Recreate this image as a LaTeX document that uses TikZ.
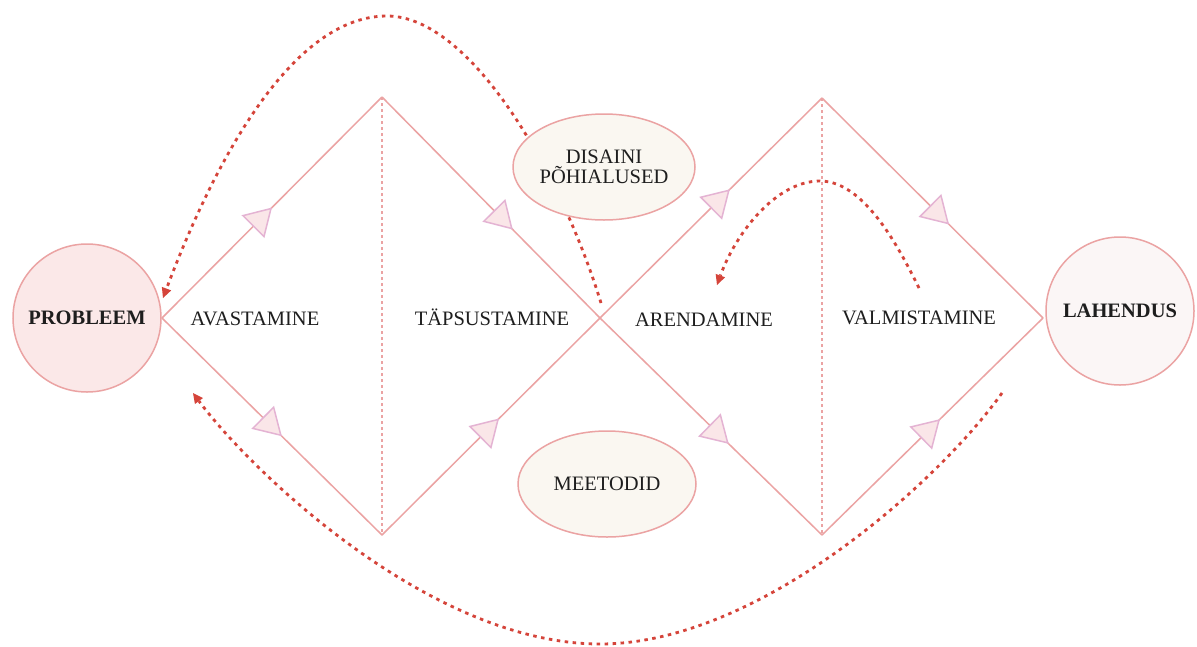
\documentclass[tikz,border=0pt]{standalone}
\usepackage{fontspec}
\setmainfont{Liberation Serif}
\usetikzlibrary{arrows.meta,decorations.markings,shapes.geometric}

\definecolor{rosa}{HTML}{EBA3A3}
\definecolor{probfill}{HTML}{FBE8E8}
\definecolor{lahfill}{HTML}{FBF6F6}
\definecolor{cream}{HTML}{FAF7F1}
\definecolor{trifill}{HTML}{FAE6E8}
\definecolor{triedge}{HTML}{E4B3D3}
\definecolor{loopred}{HTML}{D5443A}
\definecolor{ink}{HTML}{1E1E1E}

\tikzset{
  txt/.style={text=ink, font=\fontsize{20.5}{19.5}\selectfont, inner sep=0pt},
  endpoint/.style={circle, draw=rosa, line width=1.5pt, minimum size=148pt,
    inner sep=0pt, text=ink, font=\bfseries\fontsize{20.5}{22}\selectfont},
  topic/.style={ellipse, draw=rosa, line width=1.5pt, fill=cream,
    minimum width=178pt, minimum height=106pt, inner sep=0pt, align=center,
    text=ink, font=\fontsize{20.5}{19.5}\selectfont},
  flow/.style={draw=rosa, line width=1.5pt, postaction={decorate},
    decoration={markings, mark=at position #1 with
      {\arrow{Triangle[length=27pt, width=32pt, line width=1.5pt,
        fill=trifill, color=triedge]}}}},
  divider/.style={draw=rosa, line width=1.3pt, dash pattern=on 3pt off 3pt},
  loop/.style={draw=loopred, line width=2.8pt, dash pattern=on 3.5pt off 4.5pt,
    -{Triangle[length=10pt, width=10pt, line width=0pt]}}
}

\begin{document}
\begin{tikzpicture}[x=1pt, y=-1pt]
\useasboundingbox[fill=white] (0,0) rectangle (1197,646);

% end points of the process
\node[endpoint, fill=probfill] (prob) at (87,318) {PROBLEEM};
\node[endpoint, fill=lahfill] (lah) at (1120,311) {LAHENDUS};

% corners of the two diamonds
\coordinate (L1) at (162,318);
\coordinate (T1) at (382,97);
\coordinate (B1) at (382,535);
\coordinate (X)  at (600,318);
\coordinate (T2) at (822,98);
\coordinate (B2) at (822,535);
\coordinate (R2) at (1043,318);

% phase dividers
\draw[divider] (T1) -- (B1);
\draw[divider] (T2) -- (B2);

% diamond edges with direction marks
\draw[flow=0.5]   (L1) -- (T1);
\draw[flow=0.6]   (T1) -- (X);
\draw[flow=0.545] (L1) -- (B1);
\draw[flow=0.537] (B1) -- (X);
\draw[flow=0.585] (X) -- (T2);
\draw[flow=0.575] (T2) -- (R2);
\draw[flow=0.58]  (X) -- (B2);
\draw[flow=0.534] (B2) -- (R2);

% feedback loops
\coordinate (s1) at (601,303);
\coordinate (e1) at (163,298);
\draw[loop] (s1) .. controls (560,170) and (470,16) .. (387,16)
                 .. controls (280,16) and (200,200) .. (e1);

\coordinate (s2) at (1002,393);
\coordinate (e2) at (193,393);
\draw[loop] (s2) .. controls (940,480) and (760,644) .. (600,644)
                 .. controls (430,644) and (250,470) .. (e2);

\coordinate (s3) at (919,288);
\coordinate (e3) at (717,285);
\draw[loop] (s3) .. controls (900,250) and (865,181) .. (820,181)
                 .. controls (775,181) and (735,235) .. (e3);

% topic bubbles
\node[topic] (des) at (604,167) {DISAINI\\PÕHIALUSED};
\node[topic] (met) at (607,484) {MEETODID};

% phase labels
\node[txt] (avast) at (255,319) {AVASTAMINE};
\node[txt] (taps)  at (492,317) {TÄPSUSTAMINE};
\node[txt] (arend) at (704,320) {ARENDAMINE};
\node[txt] (valm)  at (919,318) {VALMISTAMINE};
\end{tikzpicture}
\end{document}
